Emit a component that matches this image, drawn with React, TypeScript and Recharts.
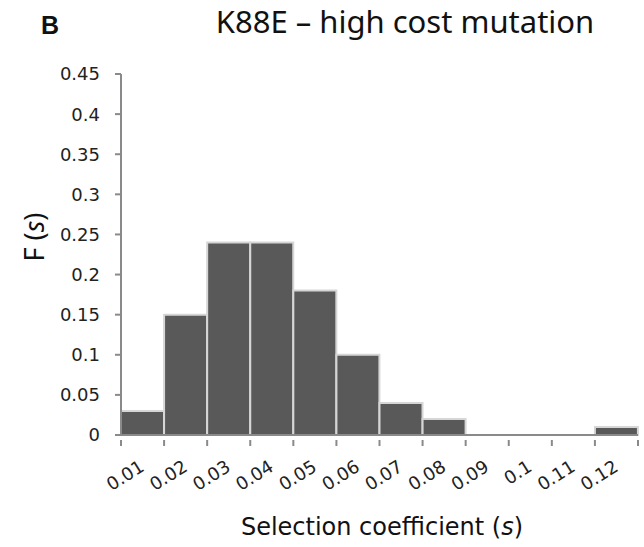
import React from "react";
import { BarChart, Bar, XAxis, YAxis } from "recharts";

// histogram bins (upper edge of each bin) and their relative frequency
const bins = ["0.01", "0.02", "0.03", "0.04", "0.05", "0.06", "0.07", "0.08", "0.09", "0.1", "0.11", "0.12"];
const freq = [0.03, 0.15, 0.24, 0.24, 0.18, 0.1, 0.04, 0.02, 0, 0, 0, 0.01];
const yTicks = [0, 0.05, 0.1, 0.15, 0.2, 0.25, 0.3, 0.35, 0.4, 0.45];

const data = bins.map((bin, i) => ({ bin, f: freq[i] }));

const AXIS = "#8a8a8a";
const TICK_FONT = "'DejaVu Sans', Verdana, sans-serif";

const BinTick = (props: any) => {
  const { x, y, payload, index } = props;
  const half = payload && payload.offset ? payload.offset : 21.5;
  const last = index === bins.length - 1;
  const tx = x + 3;
  const ty = y + 27;
  return (
    <g>
      <line x1={x - half} x2={x - half} y1={y - 3} y2={y + 3} stroke={AXIS} strokeWidth={2} />
      {last && (
        <line x1={x + half} x2={x + half} y1={y - 3} y2={y + 3} stroke={AXIS} strokeWidth={2} />
      )}
      <text
        x={tx}
        y={ty}
        textAnchor="end"
        transform={`rotate(-32, ${tx}, ${ty})`}
        fontSize={18}
        fontFamily={TICK_FONT}
        fill="#222"
      >
        {payload.value}
      </text>
    </g>
  );
};

export default function App() {
  return (
    <div style={{ position: "absolute", left: 0, top: 0, width: 644, height: 547, background: "#fff" }}>
      <div
        style={{
          position: "absolute",
          left: 41,
          top: 11,
          fontFamily: "'Liberation Sans', Arial, sans-serif",
          fontWeight: 900,
          fontSize: 25,
          color: "#111",
        }}
      >
        B
      </div>
      <div
        style={{
          position: "absolute",
          left: 405,
          top: 0,
          transform: "translateX(-50%)",
          fontFamily: "'Noto Sans', sans-serif",
          fontSize: 31,
          color: "#111",
          whiteSpace: "nowrap",
        }}
      >
        K88E – high cost mutation
      </div>
      <div
        style={{
          position: "absolute",
          left: 33,
          top: 237,
          transform: "translate(-50%, -50%) rotate(-90deg)",
          fontFamily: "'Noto Sans', sans-serif",
          fontSize: 27,
          color: "#111",
          whiteSpace: "nowrap",
        }}
      >
        F (<i>s</i>)
      </div>
      <div
        style={{
          position: "absolute",
          left: 382,
          top: 527,
          transform: "translate(-50%, -50%)",
          fontFamily: TICK_FONT,
          fontSize: 24,
          color: "#111",
          whiteSpace: "nowrap",
        }}
      >
        Selection coefficient (<i>s</i>)
      </div>
      <BarChart
        width={644}
        height={547}
        data={data}
        margin={{ top: 74, right: 6, bottom: 62, left: 0 }}
        barCategoryGap={0}
        style={{ position: "absolute", left: 0, top: 0 }}
      >
        <YAxis
          width={121}
          domain={[0, 0.45]}
          ticks={yTicks}
          interval={0}
          axisLine={{ stroke: AXIS, strokeWidth: 2 }}
          tickLine={{ stroke: AXIS, strokeWidth: 2 }}
          tickSize={6}
          tickMargin={15}
          tick={{ fontSize: 18, fontFamily: TICK_FONT, fill: "#222" }}
        />
        <XAxis
          dataKey="bin"
          height={50}
          interval={0}
          axisLine={{ stroke: AXIS, strokeWidth: 2 }}
          tickLine={false}
          tick={<BinTick />}
        />
        <Bar dataKey="f" fill="#595959" stroke="#d6d6d6" strokeWidth={2} isAnimationActive={false} />
      </BarChart>
    </div>
  );
}
